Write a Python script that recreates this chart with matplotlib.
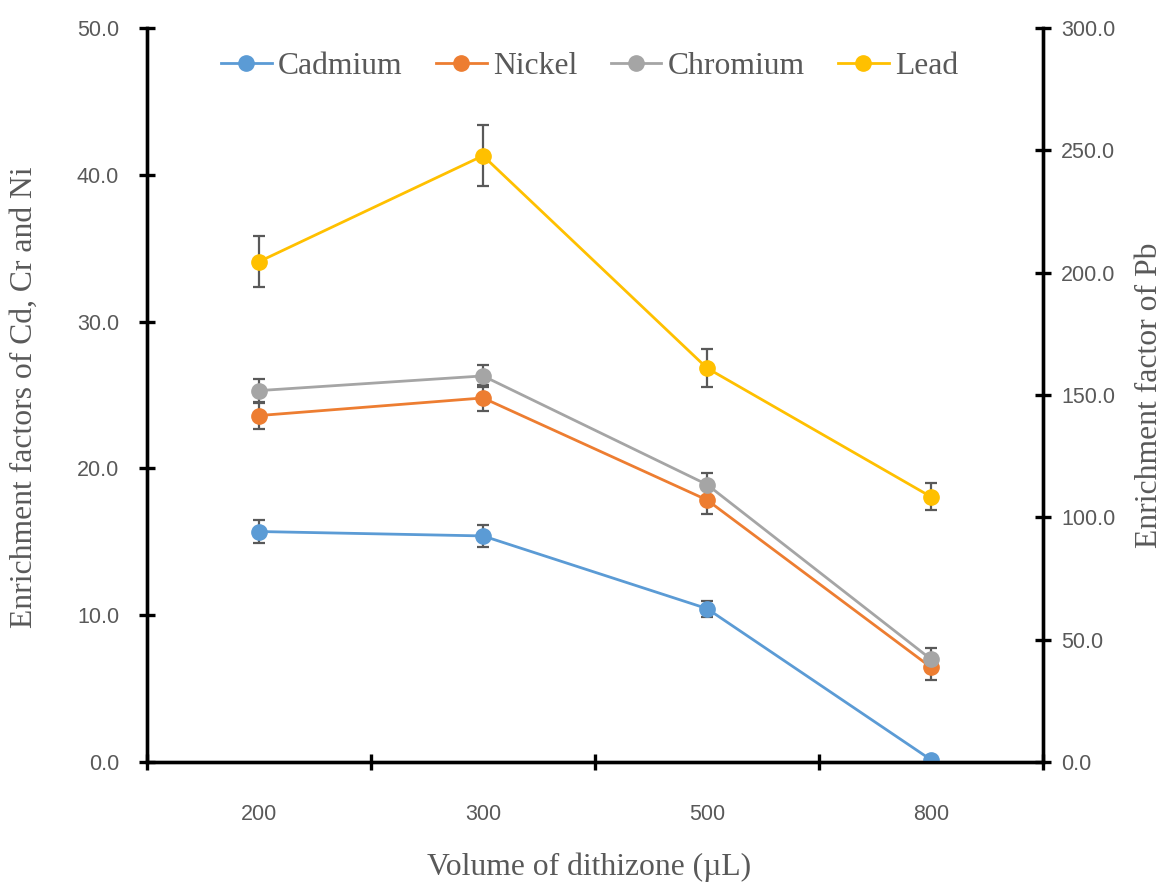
import matplotlib
matplotlib.use("Agg")
import matplotlib.pyplot as plt
import numpy as np

# ---- data ----
volumes = ["200", "300", "500", "800"]
cadmium = [15.7, 15.4, 10.45, 0.15]
cadmium_err = [0.8, 0.75, 0.55, 0.0]
nickel = [23.6, 24.8, 17.85, 6.45]
nickel_err = [0.9, 0.9, 0.94, 0.85]
chromium = [25.3, 26.3, 18.9, 7.0]
chromium_err = [0.82, 0.77, 0.76, 0.79]
lead = [204.5, 247.8, 161.0, 108.4]
lead_err = [10.3, 12.5, 7.9, 5.5]

left_ticks = [0, 10, 20, 30, 40, 50]
right_ticks = [0, 50, 100, 150, 200, 250, 300]

c_cd = "#5B9BD5"
c_ni = "#ED7D31"
c_cr = "#A5A5A5"
c_pb = "#FFC000"
err_c = "#595959"
txt_c = "#595959"

serif = ["Liberation Serif", "DejaVu Serif"]
sans = ["Liberation Sans", "DejaVu Sans"]

fig = plt.figure(figsize=(11.62, 8.84), dpi=100)
ax = fig.add_axes([147/1162, 1-762/884, (1043-147)/1162, (762-28)/884])
ax2 = ax.twinx()

x = np.arange(len(volumes))

def series(a, y, e, c, label):
    a.errorbar(x, y, yerr=e, fmt='none', ecolor=err_c, elinewidth=1.6,
               capsize=4.5, capthick=1.6, zorder=2)
    ln, = a.plot(x, y, '-o', color=c, lw=2.0, markersize=11, label=label, zorder=3)
    return ln

h1 = series(ax, cadmium, cadmium_err, c_cd, "Cadmium")
h2 = series(ax, nickel, nickel_err, c_ni, "Nickel")
h3 = series(ax, chromium, chromium_err, c_cr, "Chromium")
h4 = series(ax2, lead, lead_err, c_pb, "Lead")

ax.set_xlim(-0.5, len(volumes) - 0.5)
ax.set_ylim(0, 50)
ax2.set_ylim(0, 300)

ax.set_yticks(left_ticks)
ax.set_yticklabels([f"{v:.1f}" for v in left_ticks])
ax2.set_yticks(right_ticks)
ax2.set_yticklabels([f"{v:.1f}" for v in right_ticks])

ax.set_xticks(x)
ax.set_xticklabels(volumes)
ax.set_xticks(np.arange(-0.5, len(volumes)), minor=True)
ax.tick_params(axis='x', which='major', length=0, pad=30, labelsize=15.5, labelcolor=txt_c)
ax.tick_params(axis='x', which='minor', length=12, width=2.4, direction='inout', color='black')
ax.tick_params(axis='y', length=12, width=2.4, direction='inout', pad=14, labelsize=15.5, labelcolor=txt_c)
ax2.tick_params(axis='y', length=12, width=2.4, direction='inout', pad=7, labelsize=15.5, labelcolor=txt_c)

for a in (ax, ax2):
    for lbl in a.get_xticklabels() + a.get_yticklabels():
        lbl.set_family(sans)
    a.spines['top'].set_visible(False)
    for s in ('left', 'right', 'bottom'):
        a.spines[s].set_linewidth(2.4)
        a.spines[s].set_color('black')

ax.set_xlabel("Volume of dithizone (µL)", family=serif, fontsize=22.8, color=txt_c, va='center')
ax.xaxis.set_label_coords(0.493, -0.143)
ax.set_ylabel("Enrichment factors of Cd, Cr and Ni", family=serif, fontsize=22.8, color=txt_c, va='center')
ax.yaxis.set_label_coords(-0.137, 0.497)
ax2.set_ylabel("Enrichment factor of Pb", family=serif, fontsize=22.8, color=txt_c, va='center')
ax2.yaxis.set_label_coords(1.119, 0.5)

leg = ax2.legend(handles=[h1, h2, h3, h4], loc='center', bbox_to_anchor=(0.494, 0.947),
                 ncol=4, frameon=False, handlelength=1.6, handletextpad=0.2,
                 columnspacing=1.05, prop={'family': serif, 'size': 22.8})
for t in leg.get_texts():
    t.set_color(txt_c)

fig.savefig("out.png", dpi=100)
